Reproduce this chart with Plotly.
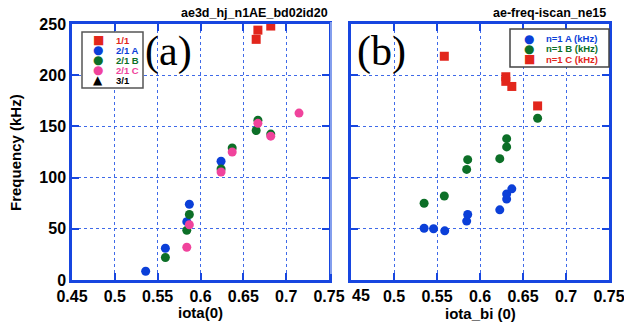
import plotly.graph_objects as go

W, H = 624, 330

# ---------------- Data: panel (a) ----------------
a_11_x = [0.665, 0.667, 0.682]
a_11_y = [235, 244, 248]
a_21A_x = [0.536, 0.559, 0.584, 0.587, 0.624]
a_21A_y = [8.5, 31, 57, 74, 116]
a_21B_x = [0.559, 0.584, 0.587, 0.624, 0.637, 0.665, 0.667, 0.682]
a_21B_y = [22, 48.5, 64, 108.5, 129, 146, 156, 142.5]
a_21C_x = [0.584, 0.587, 0.624, 0.637, 0.667, 0.682, 0.715]
a_21C_y = [32, 54, 105.5, 125, 153, 140.5, 163]
a_31_x = []
a_31_y = []

# ---------------- Data: panel (b) ----------------
b_A_x = [0.535, 0.546, 0.559, 0.5845, 0.5857, 0.623, 0.631, 0.631, 0.637]
b_A_y = [50.5, 50, 48, 57.5, 64, 68.5, 79, 84, 89]
b_B_x = [0.535, 0.5585, 0.5845, 0.5857, 0.623, 0.631, 0.631, 0.667]
b_B_y = [75, 82, 108, 117.5, 118.5, 130, 138, 158]
b_C_x = [0.5585, 0.630, 0.630, 0.637, 0.667]
b_C_y = [218.5, 194, 198.5, 189, 170]

x_ticks = [0.45, 0.5, 0.55, 0.6, 0.65, 0.7, 0.75]
x_ticktext_a = ["0.45", "0.5", "0.55", "0.6", "0.65", "0.7", "0.75"]
x_ticktext_b = ["", "0.5", "0.55", "0.6", "0.65", "0.7", "0.75"]
x_clipped_label_b = "45"   # first label of panel (b), partly hidden in the original
y_ticks = [0, 50, 100, 150, 200, 250]

RED = "#e2261c"
BLUE = "#0b3fd8"
GREEN = "#0c6f27"
PINK = "#f0439c"
FRAME = "#1746e0"
GRID = "#3f6ae8"

def px(x):
    return x / W

def py(y):
    return 1 - y / H

fig = go.Figure()

def add(x, y, color, symbol, xa, ya, size=9):
    fig.add_trace(go.Scatter(
        x=x, y=y, mode="markers", xaxis=xa, yaxis=ya, showlegend=False,
        marker=dict(color=color, symbol=symbol, size=size,
                    line=dict(width=0)),
    ))

# panel (a) — draw order: blue, green, pink, red
add(a_21A_x, a_21A_y, BLUE, "circle", "x", "y")
add(a_21B_x, a_21B_y, GREEN, "circle", "x", "y")
add(a_21C_x, a_21C_y, PINK, "circle", "x", "y")
add(a_11_x, a_11_y, RED, "square", "x", "y")
add(a_31_x, a_31_y, "black", "triangle-up", "x", "y")

# panel (b)
add(b_A_x, b_A_y, BLUE, "circle", "x2", "y2")
add(b_B_x, b_B_y, GREEN, "circle", "x2", "y2")
add(b_C_x, b_C_y, RED, "square", "x2", "y2")

tickfont = dict(family="Liberation Sans", size=16, color="black", weight="bold")

axis_common = dict(
    showline=True, mirror="allticks", linecolor=FRAME, linewidth=2.5,
    ticks="inside", ticklen=7, tickwidth=2, tickcolor=FRAME,
    showgrid=True, gridcolor=GRID, gridwidth=1, griddash="dot",
    zeroline=False, tickfont=tickfont, automargin=False,
    ticklabeloverflow="allow",
)

ydom = [py(280), py(24)]

fig.update_layout(
    width=W, height=H,
    margin=dict(l=0, r=0, t=0, b=0, pad=0, autoexpand=False),
    paper_bgcolor="white", plot_bgcolor="white",
    showlegend=False,
    xaxis=dict(domain=[px(72), px(329)], range=[0.45, 0.75],
               tickvals=x_ticks, ticktext=x_ticktext_a, anchor="y", **axis_common),
    yaxis=dict(domain=ydom, range=[0, 250], tickvals=y_ticks,
               anchor="x", **axis_common),
    xaxis2=dict(domain=[px(351), px(609)], range=[0.45, 0.75],
                tickvals=x_ticks, ticktext=x_ticktext_b, anchor="y2", **axis_common),
    yaxis2=dict(domain=ydom, range=[0, 250], tickvals=y_ticks,
                showticklabels=False, anchor="x2", **axis_common),
)

ann = []

def note(text, x, y, font, xanchor="center", angle=0):
    ann.append(dict(text=text, x=px(x), y=py(y), xref="paper", yref="paper",
                    xanchor=xanchor, yanchor="middle", showarrow=False,
                    textangle=angle, font=font))

bold15 = dict(family="Liberation Sans", size=15, color="black", weight="bold")
bold12 = dict(family="Liberation Sans", size=12.5, color="black", weight="bold")
serif = dict(family="Liberation Serif", size=42, color="black")

note("iota(0)", 200, 312, bold15)
note("iota_bi (0)", 480, 313, bold15)
note("Frequency (kHz)", 15, 153, bold15, angle=-90)
note("ae3d_hj_n1AE_bd02id20", 330, 13, bold12, xanchor="right")
note("ae-freq-iscan_ne15", 608, 13, bold12, xanchor="right")
note("(a)", 168, 51, serif)
note("(b)", 381, 51, serif)
note(x_clipped_label_b, 361, 295, tickfont)

# legends
leg_a_names = ["1/1", "2/1 A", "2/1 B", "2/1 C", "3/1"]
leg_a_colors = [RED, BLUE, GREEN, PINK, "black"]
leg_a_syms = ["\u25a0", "\u25cf", "\u25cf", "\u25cf", "\u25b2"]
leg_b_names = ["n=1 A (kHz)", "n=1 B (kHz)", "n=1 C (kHz)"]
leg_b_colors = [BLUE, GREEN, RED]
leg_b_syms = ["\u25cf", "\u25cf", "\u25a0"]

shapes = [
    dict(type="rect", xref="paper", yref="paper", x0=px(82), x1=px(143), y0=py(88), y1=py(32),
         line=dict(color="#555555", width=1.5), fillcolor="white", layer="above"),
    dict(type="rect", xref="paper", yref="paper", x0=px(510), x1=px(609), y0=py(67), y1=py(29),
         line=dict(color="#444444", width=1.5), fillcolor="white", layer="above"),
    dict(type="line", xref="paper", yref="paper", x0=px(331), x1=px(331), y0=py(274), y1=py(22),
         line=dict(color="#a9bdf2", width=1.5)),
]

for i, (n, c, s) in enumerate(zip(leg_a_names, leg_a_colors, leg_a_syms)):
    yy = 40.5 + 9.9 * i
    note(s, 98, yy, dict(family="DejaVu Sans", size=12, color=c))
    note(n, 114, yy, dict(family="Liberation Sans", size=9.5, color=c, weight="bold"), xanchor="left")

for i, (n, c, s) in enumerate(zip(leg_b_names, leg_b_colors, leg_b_syms)):
    yy = 39 + 10 * i
    note(s, 529, yy, dict(family="DejaVu Sans", size=12, color=c))
    note(n, 544, yy, dict(family="Liberation Sans", size=9.5, color=c, weight="bold"), xanchor="left")

fig.update_layout(annotations=ann, shapes=shapes)
fig.write_html("out.html",
               config={"displayModeBar": False},
               post_script="document.body.style.margin='0';document.body.style.padding='0';")
